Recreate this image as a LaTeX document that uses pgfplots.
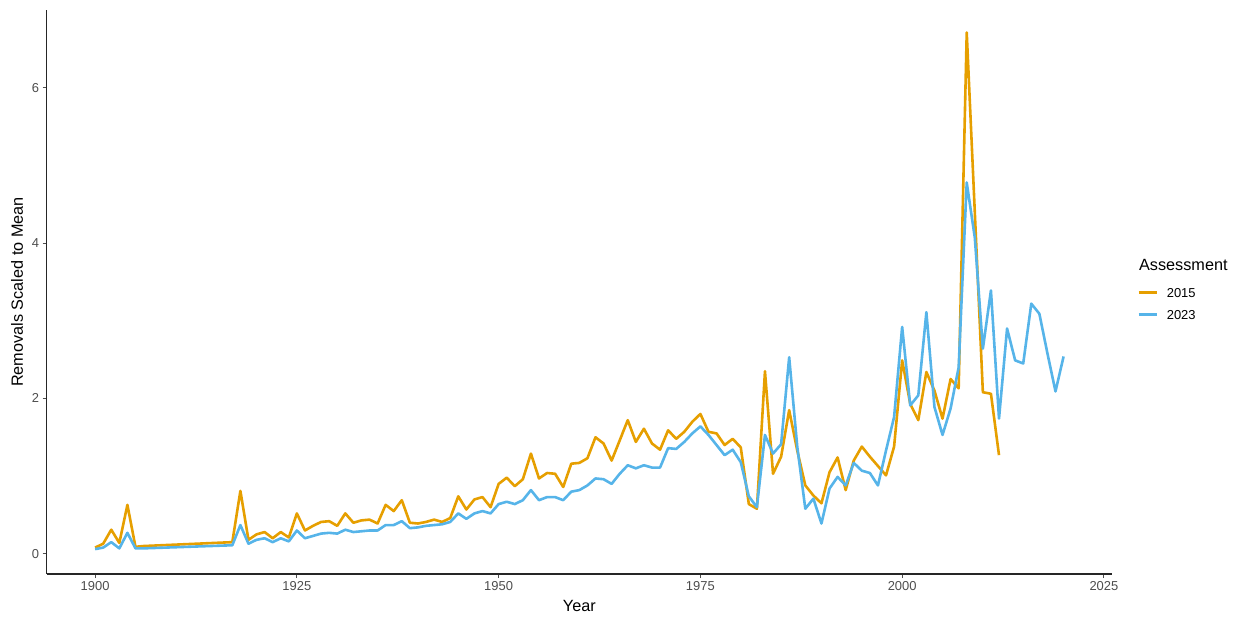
\documentclass[border=0pt]{standalone}
\usepackage{pgfplots}
\pgfplotsset{compat=1.18}
\usepackage{fontspec}
\setmainfont{Liberation Sans}
\definecolor{c2015}{HTML}{E69F00}
\definecolor{c2023}{HTML}{56B4E9}
\definecolor{tickgray}{HTML}{4D4D4D}

\begin{document}
\begin{tikzpicture}
\path[use as bounding box] (0,0) rectangle (1243bp,617bp);
\begin{axis}[
  at={(46.7bp,43bp)}, anchor=south west,
  scale only axis, width=1065.3bp, height=564bp,
  xmin=1894, xmax=2026, ymin=-0.26, ymax=7.0,
  axis x line*=bottom, axis y line*=left,
  axis line style={line width=1.1bp, black!85, -},
  xtick={1900,1925,...,2025}, ytick={0,2,4,6},
  tick align=outside, major tick length=4bp,
  tick style={line width=1bp, tickgray},
  ticklabel style={font=\fontsize{13}{15}\selectfont, text=tickgray},
  /pgf/number format/assume math mode=true,
  /pgf/number format/1000 sep={},
  xlabel={Year}, ylabel={Removals Scaled to Mean},
  label style={font=\fontsize{16.3}{18}\selectfont},
  xlabel style={at={(axis description cs:0.5,-0.0564)}, anchor=center},
  ylabel style={at={(axis description cs:-0.0279,0.5)}, anchor=center},
  clip=false,
  legend style={at={(1.0235,0.479)}, anchor=west, draw=none, fill=none,
    inner sep=0pt, font=\fontsize{13}{15}\selectfont, row sep=8.5bp,
    column sep=7bp,
    nodes={inner sep=2bp, text height=9.5bp, text depth=0bp}},
  legend cell align=left,
  legend image code/.code={\draw[#1, line width=2.6bp] (0bp,0.2bp) -- (18bp,0.2bp);},
  every axis plot/.append style={line width=2.6bp, line join=round},
]
\addplot[c2015] coordinates {
(1900,0.08) (1901,0.13) (1902,0.31) (1903,0.14) (1904,0.63) (1905,0.09) (1906,0.10)
(1917,0.15) (1918,0.81) (1919,0.18) (1920,0.25) (1921,0.28) (1922,0.20) (1923,0.28)
(1924,0.21) (1925,0.52) (1926,0.30) (1927,0.36) (1928,0.41) (1929,0.42) (1930,0.36)
(1931,0.52) (1932,0.40) (1933,0.43) (1934,0.44) (1935,0.39) (1936,0.63) (1937,0.55)
(1938,0.69) (1939,0.40) (1940,0.39) (1941,0.41) (1942,0.44) (1943,0.41) (1944,0.46)
(1945,0.74) (1946,0.57) (1947,0.70) (1948,0.73) (1949,0.60) (1950,0.90) (1951,0.98)
(1952,0.87) (1953,0.96) (1954,1.29) (1955,0.97) (1956,1.04) (1957,1.03) (1958,0.86)
(1959,1.16) (1960,1.17) (1961,1.23) (1962,1.50) (1963,1.42) (1964,1.20) (1965,1.46)
(1966,1.72) (1967,1.44) (1968,1.61) (1969,1.42) (1970,1.34) (1971,1.59) (1972,1.48)
(1973,1.57) (1974,1.70) (1975,1.80) (1976,1.57) (1977,1.55) (1978,1.40) (1979,1.48)
(1980,1.37) (1981,0.64) (1982,0.58) (1983,2.35) (1984,1.03) (1985,1.25) (1986,1.85)
(1987,1.33) (1988,0.88) (1989,0.75) (1990,0.65) (1991,1.05) (1992,1.24) (1993,0.82)
(1994,1.20) (1995,1.38) (1996,1.25) (1997,1.13) (1998,1.01) (1999,1.38) (2000,2.49)
(2001,1.93) (2002,1.72) (2003,2.34) (2004,2.10) (2005,1.74) (2006,2.25) (2007,2.13)
(2008,6.71) (2009,4.40) (2010,2.08) (2011,2.06) (2012,1.27)
};
\addlegendentry{2015}
\addplot[c2023] coordinates {
(1900,0.06) (1901,0.08) (1902,0.15) (1903,0.07) (1904,0.27) (1905,0.07) (1906,0.07)
(1917,0.11) (1918,0.37) (1919,0.13) (1920,0.18) (1921,0.20) (1922,0.15) (1923,0.20)
(1924,0.16) (1925,0.30) (1926,0.20) (1927,0.23) (1928,0.26) (1929,0.27) (1930,0.26)
(1931,0.31) (1932,0.28) (1933,0.29) (1934,0.30) (1935,0.30) (1936,0.37) (1937,0.37)
(1938,0.42) (1939,0.33) (1940,0.34) (1941,0.36) (1942,0.37) (1943,0.38) (1944,0.41)
(1945,0.52) (1946,0.45) (1947,0.52) (1948,0.55) (1949,0.52) (1950,0.64) (1951,0.67)
(1952,0.64) (1953,0.69) (1954,0.82) (1955,0.69) (1956,0.73) (1957,0.73) (1958,0.69)
(1959,0.80) (1960,0.82) (1961,0.88) (1962,0.97) (1963,0.96) (1964,0.90) (1965,1.03)
(1966,1.14) (1967,1.10) (1968,1.14) (1969,1.11) (1970,1.11) (1971,1.36) (1972,1.35)
(1973,1.44) (1974,1.55) (1975,1.64) (1976,1.53) (1977,1.40) (1978,1.27) (1979,1.34)
(1980,1.18) (1981,0.74) (1982,0.60) (1983,1.53) (1984,1.29) (1985,1.41) (1986,2.53)
(1987,1.38) (1988,0.58) (1989,0.71) (1990,0.39) (1991,0.84) (1992,0.99) (1993,0.88)
(1994,1.17) (1995,1.07) (1996,1.04) (1997,0.88) (1998,1.33) (1999,1.76) (2000,2.92)
(2001,1.91) (2002,2.04) (2003,3.11) (2004,1.89) (2005,1.53) (2006,1.87) (2007,2.40)
(2008,4.78) (2009,4.07) (2010,2.64) (2011,3.39) (2012,1.74) (2013,2.90) (2014,2.49)
(2015,2.45) (2016,3.22) (2017,3.09) (2018,2.58) (2019,2.09) (2020,2.54)
};
\addlegendentry{2023}
\node[anchor=west, inner sep=0pt, font=\fontsize{16.3}{18}\selectfont] at (axis description cs:1.0253,0.548) {Assessment};
\end{axis}
\end{tikzpicture}
\end{document}
